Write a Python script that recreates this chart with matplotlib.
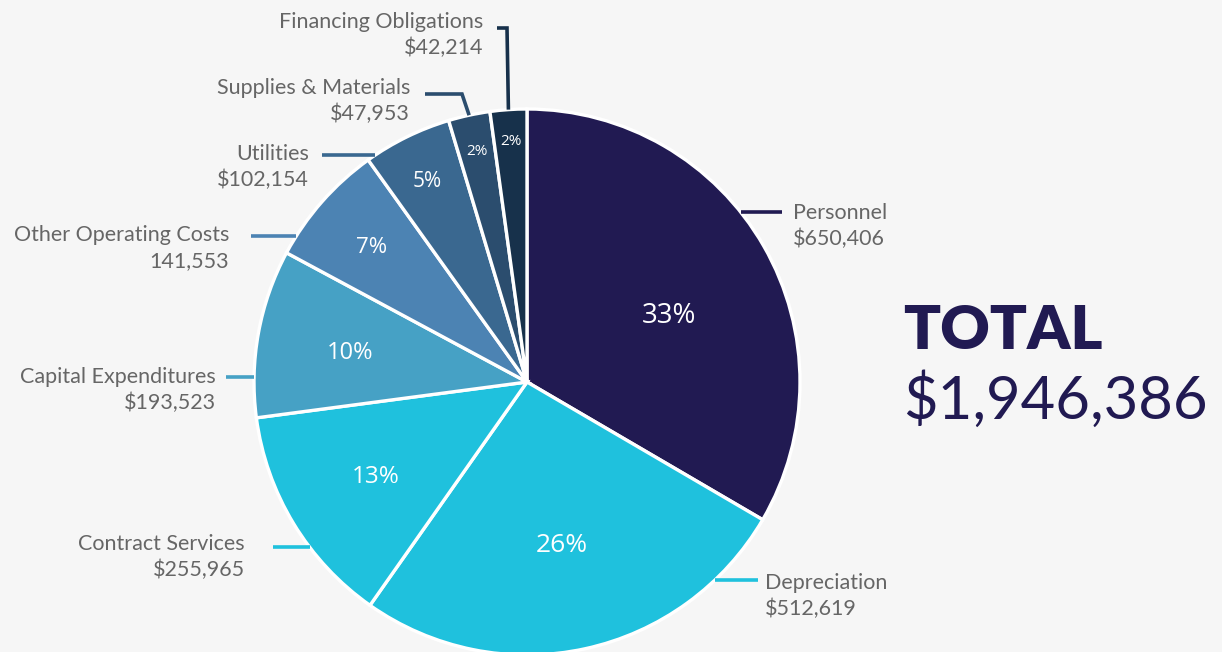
import numpy as np
import matplotlib
matplotlib.use("Agg")
import matplotlib.pyplot as plt

# данные
categories = ["Personnel", "Depreciation", "Contract Services", "Capital Expenditures",
              "Other Operating Costs", "Utilities", "Supplies & Materials", "Financing Obligations"]
values = [650406, 512619, 255965, 193523, 141553, 102154, 47953, 42214]
value_labels = ["$650,406", "$512,619", "$255,965", "$193,523",
                "141,553", "$102,154", "$47,953", "$42,214"]
pct_labels = ["33%", "26%", "13%", "10%", "7%", "5%", "2%", "2%"]
total_label = "$1,946,386"

colors = ["#211A52", "#1FC1DD", "#1FC1DD", "#46A1C5", "#4C83B3", "#3A6890", "#2B4D6E", "#17314B"]

W, H = 1222, 652
BG = "#F6F6F6"
TXT = "#666666"
FS = 15.5

def py(y):
    # пиксели сверху -> координаты снизу
    return H - y

cx, cy, R = 527, py(382), 273

fig = plt.figure(figsize=(W / 100, H / 100), dpi=100, facecolor=BG)
ax = fig.add_axes([0, 0, 1, 1])
ax.set_facecolor(BG)

wedges, _ = ax.pie(values, colors=colors, startangle=90, counterclock=False,
                   center=(cx, cy), radius=R,
                   wedgeprops=dict(edgecolor="white", linewidth=2.4))
ax.set_xlim(0, W)
ax.set_ylim(0, H)
ax.set_aspect("equal")
ax.axis("off")

# проценты внутри
pct_r = [0.58, 0.6, 0.65, 0.66, 0.76, 0.83, 0.87, 0.89]
pct_shift = [-4, 0, 0, 0, 0, 0, 0, 0]
pct_fs = [20, 19, 17.5, 17, 16, 15, 11, 11]
for w, lab, r, s, fs in zip(wedges, pct_labels, pct_r, pct_shift, pct_fs):
    a = np.deg2rad((w.theta1 + w.theta2) / 2 + s)
    ax.text(cx + R * r * np.cos(a), cy + R * r * np.sin(a), lab, color="white",
            fontsize=fs, ha="center", va="center_baseline", family="Open Sans")

# выноски: (y линии, x конца линии, x текста, y названия, сторона)
layout = [
    (212, 782, 793, 211, "right"),
    (580, 758, 765, 581, "right"),
    (547, 273, 245, 542, "left"),
    (377, 226, 216, 375, "left"),
    (236, 251, 229, 233, "left"),
    (155, 322, 309, 152, "left"),
]
for i, (ly, lx, tx, ny, side) in enumerate(layout):
    dy = cy - py(ly)
    dx = np.sqrt(R ** 2 - dy ** 2)
    x0 = cx + dx if side == "right" else cx - dx
    ax.plot([x0, lx], [py(ly), py(ly)], color=colors[i], lw=2.6, solid_capstyle="butt")
    ha = "left" if side == "right" else "right"
    ax.text(tx, py(ny), categories[i], color=TXT, fontsize=FS, ha=ha,
            va="center_baseline", family="Lato")
    ax.text(tx, py(ny + 26), value_labels[i], color=TXT, fontsize=FS, ha=ha,
            va="center_baseline", family="Lato")

# две маленькие доли сверху - ломаные выноски
elbows = [(6, 462, 94, 425, 410, 86), (7, 507, 28, 497, 483, 20)]
for i, ex, ey, hx, tx, ny in elbows:
    w = wedges[i]
    a = np.deg2rad((w.theta1 + w.theta2) / 2)
    x0, y0 = cx + R * np.cos(a), cy + R * np.sin(a)
    ax.plot([x0, ex, hx], [y0, py(ey), py(ey)], color=colors[i], lw=2.6,
            solid_joinstyle="miter", solid_capstyle="butt")
    ax.text(tx, py(ny), categories[i], color=TXT, fontsize=FS, ha="right",
            va="center_baseline", family="Lato")
    ax.text(tx, py(ny + 26), value_labels[i], color=TXT, fontsize=FS, ha="right",
            va="center_baseline", family="Lato")

# итог
ax.text(903, py(326), "TOTAL", color="#211A52", fontsize=44, fontweight="heavy",
        ha="left", va="center_baseline", family="Lato")
ax.text(903, py(395), total_label, color="#211A52", fontsize=43, fontweight="normal",
        ha="left", va="center_baseline", family="Lato")

fig.savefig("out.png", dpi=100, facecolor=BG)
